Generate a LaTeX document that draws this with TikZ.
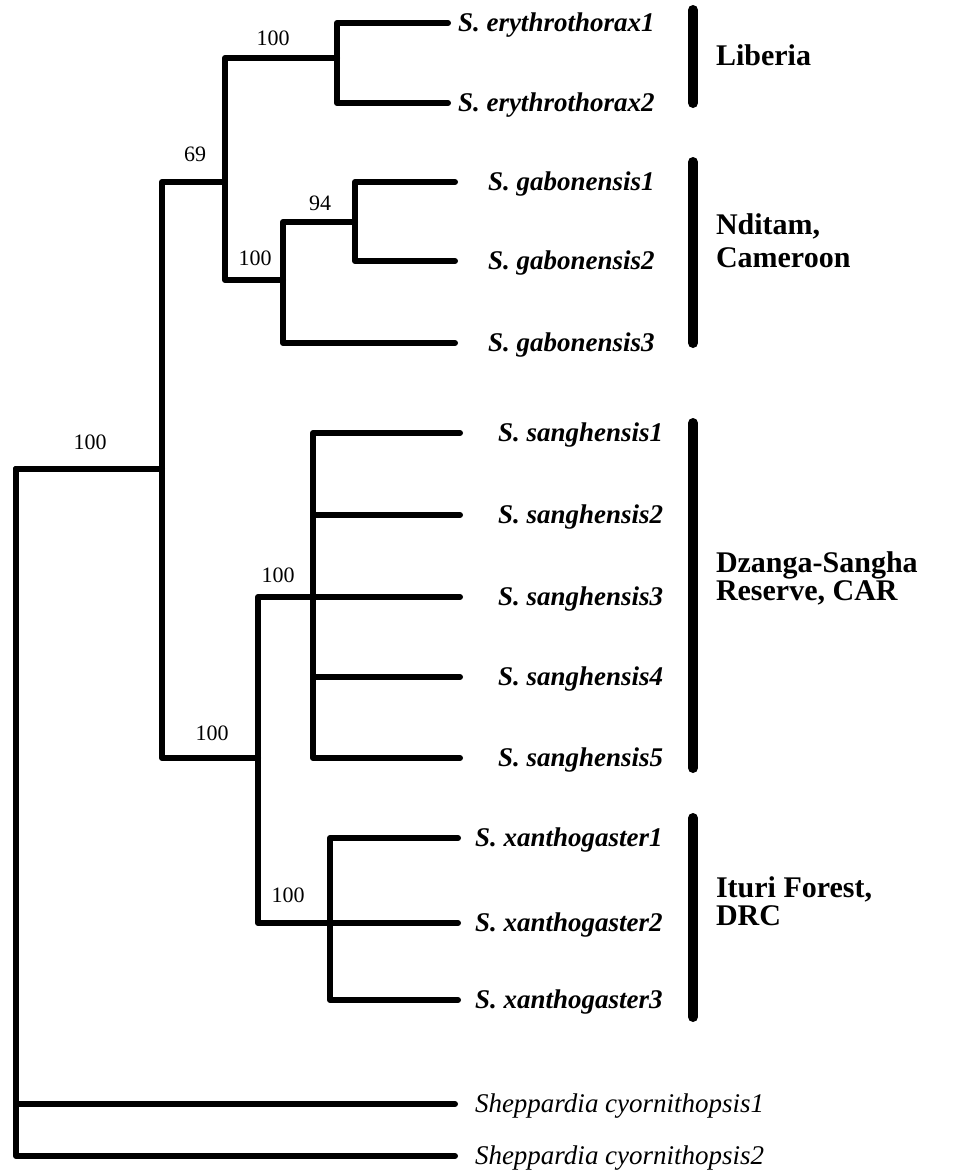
\documentclass[tikz,border=0pt]{standalone}
\usepackage{fontspec}
\setmainfont{Liberation Serif}
\usetikzlibrary{positioning}

\begin{document}
\begin{tikzpicture}
	[x=1pt,y=-1pt,line width=6pt,line cap=round,line join=round,
	branch/.style={to path={|- (\tikztotarget)}},
	taxon/.style={inner sep=0pt,yshift=-2pt,font=\fontsize{27}{30}\selectfont\bfseries\itshape},
	outgroup/.style={inner sep=0pt,yshift=-2pt,font=\fontsize{27}{30}\selectfont\itshape},
	boot/.style={inner sep=0pt,font=\fontsize{22}{24}\selectfont},
	region/.style={inner sep=0pt,align=left,font=\fontsize{30}{33}\selectfont\bfseries},
	bar/.style={line width=10pt}]
	\useasboundingbox (0,0) rectangle (977,1171);

	% internal nodes of the tree
	\coordinate (root) at (16,469);
	\coordinate (A) at (162,469);
	\coordinate (B) at (225,182);
	\coordinate (C) at (258,758);
	\coordinate (D) at (337,58);
	\coordinate (E) at (283,280);
	\coordinate (F) at (355,222);
	\coordinate (G) at (313,597);
	\coordinate (H) at (330,923);

	% tips
	\coordinate (te1) at (448,23);
	\coordinate (te2) at (448,103);
	\coordinate (tg1) at (455,182);
	\coordinate (tg2) at (455,261);
	\coordinate (tg3) at (455,343);
	\coordinate (ts1) at (460,433);
	\coordinate (ts2) at (460,515);
	\coordinate (ts3) at (460,597);
	\coordinate (ts4) at (460,677);
	\coordinate (ts5) at (460,758);
	\coordinate (tx1) at (458,838);
	\coordinate (tx2) at (458,923);
	\coordinate (tx3) at (458,1000);
	\coordinate (tc1) at (455,1104);
	\coordinate (tc2) at (455,1156);

	\path
	\foreach \startNode/\endNode in {root/A,root/tc1,root/tc2,A/B,A/C,B/D,B/E,
		D/te1,D/te2,E/F,E/tg3,F/tg1,F/tg2,C/G,C/H,
		G/ts1,G/ts2,G/ts3,G/ts4,G/ts5,H/tx1,H/tx2,H/tx3}{
		(\startNode) edge[branch] (\endNode)
	};

	\node[taxon,right=7pt of te1] (e1) {S. erythrothorax1};
	\node[taxon,right=7pt of te2] (e2) {S. erythrothorax2};
	\node[taxon,right=30pt of tg1] (g1) {S. gabonensis1};
	\node[taxon,right=30pt of tg2] (g2) {S. gabonensis2};
	\node[taxon,right=30pt of tg3] (g3) {S. gabonensis3};
	\node[taxon,right=35pt of ts1] (s1) {S. sanghensis1};
	\node[taxon,right=35pt of ts2] (s2) {S. sanghensis2};
	\node[taxon,right=35pt of ts3] (s3) {S. sanghensis3};
	\node[taxon,right=35pt of ts4] (s4) {S. sanghensis4};
	\node[taxon,right=35pt of ts5] (s5) {S. sanghensis5};
	\node[taxon,right=14pt of tx1] (x1) {S. xanthogaster1};
	\node[taxon,right=14pt of tx2] (x2) {S. xanthogaster2};
	\node[taxon,right=14pt of tx3] (x3) {S. xanthogaster3};
	\node[outgroup,right=17pt of tc1] (c1) {Sheppardia cyornithopsis1};
	\node[outgroup,right=17pt of tc2] (c2) {Sheppardia cyornithopsis2};

	% bootstrap values
	\node[boot] (bD) at (273,38) {100};
	\node[boot] (bB) at (195,154) {69};
	\node[boot] (bE) at (255,258) {100};
	\node[boot] (bF) at (320,203) {94};
	\node[boot] (bA) at (90,442) {100};
	\node[boot] (bG) at (278,575) {100};
	\node[boot] (bC) at (212,733) {100};
	\node[boot] (bH) at (288,895) {100};

	% localities
	\draw[bar] (693,10) -- (693,103);
	\draw[bar] (693,162) -- (693,343);
	\draw[bar] (693,423) -- (693,768);
	\draw[bar] (693,818) -- (693,1017);
	\node[region,anchor=base west] (lib) at (713,65) {Liberia};
	\node[region,anchor=north west] (ndi) at (713,211) {Nditam,\\Cameroon};
	\node[region,anchor=north west,font=\fontsize{30}{28}\selectfont\bfseries] (dza) at (713,549) {Dzanga-Sangha\\Reserve, CAR};
	\node[region,anchor=north west,font=\fontsize{30}{28}\selectfont\bfseries] (itu) at (713,874) {Ituri Forest,\\DRC};
\end{tikzpicture}
\end{document}
